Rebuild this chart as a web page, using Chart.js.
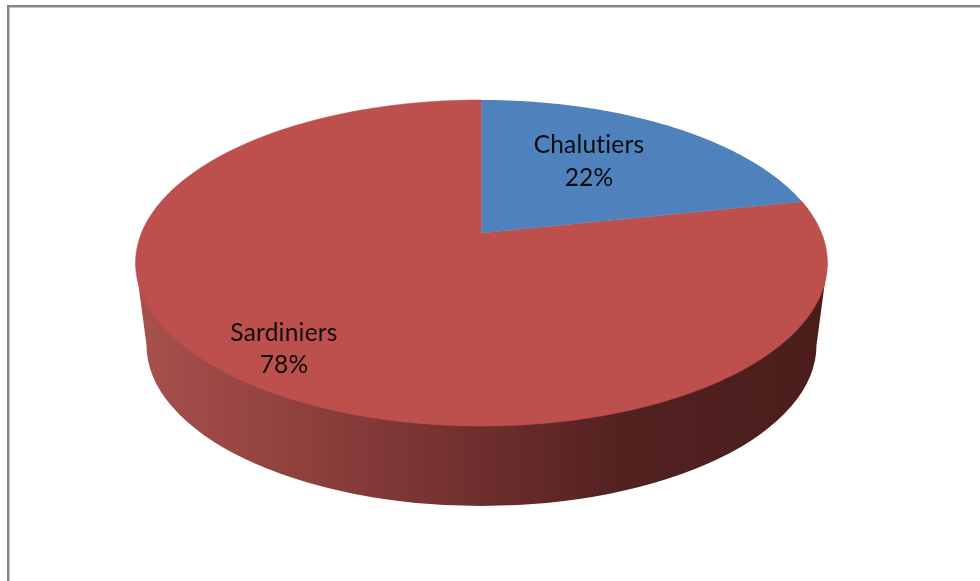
<!DOCTYPE html>
<html>
<head>
<meta charset="utf-8">
<style>
html,body{margin:0;padding:0;background:#fff;overflow:hidden}
#wrap{position:relative;width:980px;height:581px}
#frame{position:absolute;left:7px;top:5px;right:-10px;bottom:-10px;border-top:2px solid #858585;border-left:2px solid #858585;box-shadow:inset 1px 1px 0 #c4c4c4}
canvas{position:absolute;left:0;top:0}
</style>
</head>
<body>
<div id="wrap"><div id="frame"></div><canvas id="c" width="980" height="581"></canvas></div>
<script src="https://cdn.jsdelivr.net/npm/chart.js@4"></script>
<script>
const categories = ['Chalutiers', 'Sardiniers'];
const shares = [21.7, 78.3];
const sliceColors = ['#4F81BD', '#BD4F4C'];

// Top face: a circle seen in perspective (projective mapping of the unit disc).
const view = {cx: 481.5, cy: 233, ax: 340, by: 157.5, p: -0.184};
// Rim of the pie: lower edge of the side wall.
const wall = {topCy: 263, topRx: 346, botCy: 345, botRx: 335, botRy: 161};
const labelSpots = [[589, 145, 178], [284, 333, 365]];

function project(u, v) {
  const w = 1 + view.p * v;
  return [view.cx + view.ax * u / w, view.cy + view.by * v / w];
}
function traceSlice(ctx, start, end) {
  ctx.beginPath();
  ctx.moveTo(view.cx, view.cy);
  const steps = Math.max(2, Math.ceil((end - start) / 0.01));
  for (let i = 0; i <= steps; i++) {
    const t = start + (end - start) * i / steps;
    const q = project(Math.cos(t), Math.sin(t));
    ctx.lineTo(q[0], q[1]);
  }
  ctx.closePath();
}
const perspectivePie = {
  id: 'perspectivePie',
  beforeDatasetDraw(chart, args) {
    const ctx = chart.ctx;
    ctx.save();
    // side wall
    const g = ctx.createLinearGradient(140, 0, 827, 0);
    g.addColorStop(0, '#A8504C');
    g.addColorStop(0.24, '#8E403D');
    g.addColorStop(0.5, '#6E2E2D');
    g.addColorStop(0.7, '#522221');
    g.addColorStop(1, '#4A1D1B');
    ctx.fillStyle = g;
    ctx.beginPath();
    ctx.moveTo(view.cx - wall.topRx, wall.topCy);
    ctx.lineTo(view.cx - wall.botRx, wall.botCy);
    ctx.ellipse(view.cx, wall.botCy, wall.botRx, wall.botRy, 0, Math.PI, 0, true);
    ctx.lineTo(view.cx + wall.topRx, wall.topCy);
    ctx.closePath();
    ctx.fill();
    // slices, built from the angles the pie controller computed
    const arcs = args.meta.data;
    for (let i = arcs.length - 1; i >= 0; i--) {
      const a = arcs[i].getProps(['startAngle', 'endAngle'], true);
      traceSlice(ctx, a.startAngle, a.endAngle);
      ctx.fillStyle = sliceColors[i];
      ctx.fill();
      if (i === arcs.length - 1) {
        ctx.strokeStyle = sliceColors[i];
        ctx.lineWidth = 0.6;
        ctx.stroke();
      }
    }
    // labels
    const total = shares.reduce((s, x) => s + x, 0);
    ctx.fillStyle = '#0b0b0b';
    ctx.font = '24.5px Lato, "Open Sans", sans-serif';
    ctx.letterSpacing = '0.2px';
    ctx.textAlign = 'center';
    ctx.textBaseline = 'middle';
    categories.forEach((name, i) => {
      const s = labelSpots[i];
      ctx.fillText(name, s[0], s[1]);
      ctx.fillText(Math.round(100 * shares[i] / total) + '%', s[0], s[2]);
    });
    ctx.restore();
    return false;
  }
};
new Chart(document.getElementById('c'), {
  type: 'pie',
  data: {
    labels: categories,
    datasets: [{data: shares, backgroundColor: sliceColors, borderWidth: 0}]
  },
  options: {
    responsive: false,
    animation: false,
    plugins: {legend: {display: false}, tooltip: {enabled: false}}
  },
  plugins: [perspectivePie]
});
</script>
</body>
</html>
